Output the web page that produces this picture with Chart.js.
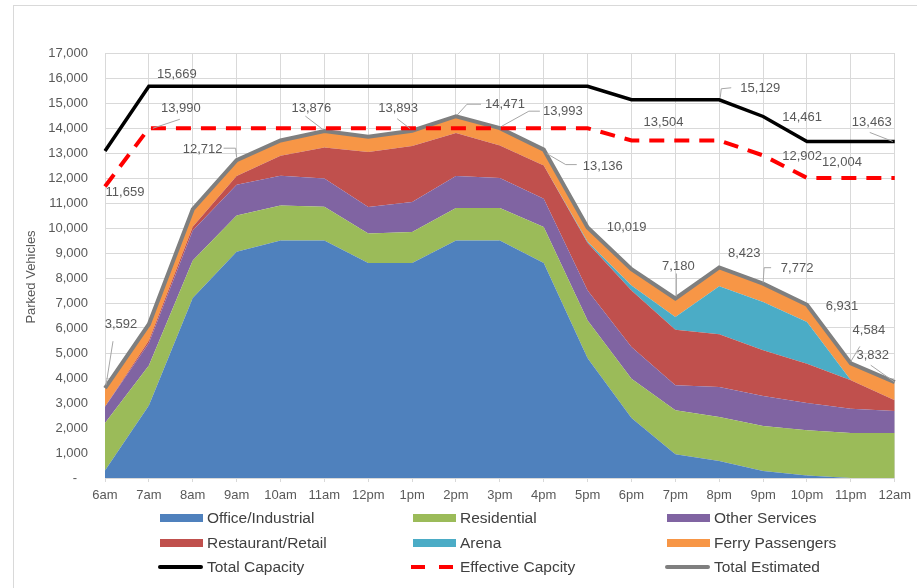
<!DOCTYPE html>
<html>
<head>
<meta charset="utf-8">
<script src="https://cdn.jsdelivr.net/npm/chart.js@4.4.0/dist/chart.umd.min.js"></script>
<style>
body { margin: 0; background: #fff; font-family: "Liberation Sans", Arial, sans-serif; }
#frame { position: absolute; left: 13px; top: 5px; width: 920px; height: 600px; border-left: 1px solid #d9d9d9; border-top: 1px solid #d9d9d9; }
#wrap { position: absolute; left: 0; top: 0; width: 917px; height: 510px; }
.item { position: absolute; font-size: 15.5px; color: #404040; line-height: 18px; white-space: nowrap; }
.sw { position: absolute; }
</style>
</head>
<body>
<div id="frame"></div>
<div id="wrap"><canvas id="myChart"></canvas></div>
<div id="legend"></div>
<script>
// hours on the x axis
var hours = ['6am', '7am', '8am', '9am', '10am', '11am', '12pm', '1pm', '2pm', '3pm', '4pm', '5pm', '6pm', '7pm', '8pm', '9pm', '10pm', '11pm', '12am'];

// parked vehicles by land use (stacked)
var officeIndustrial = [300, 2900, 7200, 9050, 9500, 9500, 8600, 8600, 9500, 9500, 8600, 4790, 2400, 950, 680, 280, 100, 0, 0];
var residential = [1900, 1600, 1500, 1450, 1400, 1350, 1180, 1240, 1300, 1300, 1440, 1510, 1570, 1760, 1760, 1800, 1810, 1800, 1800];
var otherServices = [650, 900, 1200, 1230, 1190, 1130, 1060, 1200, 1280, 1200, 1130, 1200, 1270, 1000, 1200, 1200, 1090, 970, 880];
var restaurantRetail = [0, 100, 150, 350, 800, 1240, 2200, 2240, 1720, 1300, 1330, 1900, 2260, 2220, 2110, 1830, 1570, 1140, 430];
var arena = [0, 0, 0, 0, 0, 0, 0, 0, 0, 0, 0, 50, 200, 510, 1920, 1930, 1670, 0, 0];
var ferryPassengers = [742, 650, 700, 632, 610, 656, 610, 613, 671, 693, 636, 569, 600, 740, 753, 732, 691, 674, 722];

// lines
var totalCapacity = [13080, 15669, 15669, 15669, 15669, 15669, 15669, 15669, 15669, 15669, 15669, 15669, 15129, 15129, 15129, 14461, 13463, 13463, 13463];
var effectiveCapacity = [11659, 13990, 13990, 13990, 13990, 13990, 13990, 13990, 13990, 13990, 13990, 13990, 13504, 13504, 13504, 12902, 12004, 12004, 12004];
var totalEstimated = [3592, 6150, 10750, 12712, 13500, 13876, 13650, 13893, 14471, 13993, 13136, 10019, 8350, 7180, 8423, 7772, 6931, 4584, 3832];

Chart.defaults.font.family = '"Liberation Sans", Arial, sans-serif';
Chart.defaults.color = '#595959';

function area(label, data, color, first) {
    return { label: label, data: data, backgroundColor: color, borderColor: color, borderWidth: 0,
        fill: first ? 'origin' : '-1', stack: 'uses', pointRadius: 0, tension: 0, order: 2, kind: 'area' };
}

var datasets = [
    area('Office/Industrial', officeIndustrial, '#4F81BD', true),
    area('Residential', residential, '#9BBB59'),
    area('Other Services', otherServices, '#8064A2'),
    area('Restaurant/Retail', restaurantRetail, '#C0504D'),
    area('Arena', arena, '#4BACC6'),
    area('Ferry Passengers', ferryPassengers, '#F79646'),
    { label: 'Total Capacity', data: totalCapacity, borderColor: '#000000', borderWidth: 3.5, fill: false,
      stack: 'cap', pointRadius: 0, tension: 0, order: 0, kind: 'line' },
    { label: 'Effective Capcity', data: effectiveCapacity, borderColor: '#FF0000', borderWidth: 4, borderDash: [15, 10],
      fill: false, stack: 'eff', pointRadius: 0, tension: 0, order: 0, kind: 'dash' },
    { label: 'Total Estimated', data: totalEstimated, borderColor: '#7F7F7F', borderWidth: 4, fill: false,
      stack: 'est', pointRadius: 0, tension: 0, order: 1, kind: 'line' }
];

// which points carry a value label, and where it sits relative to the point
var pointLabels = [
    { set: 'Total Estimated', i: 0, dx: 16, dy: -64, lead: [[1, -3], [8, -47]] },
    { set: 'Effective Capcity', i: 0, dx: 20, dy: 6 },
    { set: 'Total Capacity', i: 1, dx: 28, dy: -12 },
    { set: 'Effective Capcity', i: 1, dx: 32, dy: -20, lead: [[4, 0], [31, -9]] },
    { set: 'Total Estimated', i: 3, dx: -34, dy: -11, lead: [[-13, -12], [-1, -12], [0, -3]] },
    { set: 'Total Estimated', i: 5, dx: -13, dy: -23, lead: [[-19, -15], [-2, -2]] },
    { set: 'Total Estimated', i: 7, dx: -14, dy: -22, lead: [[-15, -12], [-2, -2]] },
    { set: 'Total Estimated', i: 8, dx: 49, dy: -12, lead: [[1, -1], [11, -12], [25, -12]] },
    { set: 'Total Estimated', i: 9, dx: 63, dy: -17, lead: [[2, -2], [29, -17], [40, -17]] },
    { set: 'Total Estimated', i: 10, dx: 59, dy: 17, lead: [[3, 4], [22, 15], [33, 15]] },
    { set: 'Total Estimated', i: 11, dx: 39, dy: 0 },
    { set: 'Effective Capcity', i: 12, dx: 32, dy: -18 },
    { set: 'Total Capacity', i: 14, dx: 41, dy: -11, lead: [[1, -2], [2, -11], [12, -12]] },
    { set: 'Total Capacity', i: 15, dx: 39, dy: 1 },
    { set: 'Effective Capcity', i: 15, dx: 39, dy: 1 },
    { set: 'Effective Capcity', i: 16, dx: 35, dy: -15 },
    { set: 'Total Capacity', i: 18, dx: -23, dy: -19, lead: [[-25, -9], [-2, 0]] },
    { set: 'Total Estimated', i: 13, dx: 3, dy: -32, lead: [[1, -25], [1, -2]] },
    { set: 'Total Estimated', i: 14, dx: 25, dy: -14 },
    { set: 'Total Estimated', i: 15, dx: 34, dy: -15, lead: [[0, -1], [1, -16], [8, -16]] },
    { set: 'Total Estimated', i: 16, dx: 35, dy: 2 },
    { set: 'Total Estimated', i: 17, dx: 18, dy: -33, lead: [[0, -2], [9, -17]] },
    { set: 'Total Estimated', i: 18, dx: -22, dy: -27, lead: [[-24, -17], [0, 0]] }
];

var labelPlugin = {
    id: 'pointLabels',
    afterDatasetsDraw: function (chart) {
        var ctx = chart.ctx;
        ctx.save();
        ctx.font = '13px "Liberation Sans", Arial, sans-serif';
        ctx.textAlign = 'center';
        ctx.textBaseline = 'middle';
        pointLabels.forEach(function (p) {
            var idx = chart.data.datasets.findIndex(function (d) { return d.label === p.set; });
            var pt = chart.getDatasetMeta(idx).data[p.i];
            if (p.lead) {
                ctx.strokeStyle = '#a6a6a6';
                ctx.lineWidth = 1;
                ctx.beginPath();
                p.lead.forEach(function (q, k) {
                    if (k === 0) ctx.moveTo(pt.x + q[0], pt.y + q[1]);
                    else ctx.lineTo(pt.x + q[0], pt.y + q[1]);
                });
                ctx.stroke();
            }
            ctx.fillStyle = '#595959';
            var v = chart.data.datasets[idx].data[p.i];
            ctx.fillText(v.toLocaleString('en-US'), pt.x + p.dx, pt.y + p.dy);
        });
        // axis title
        ctx.translate(31, 277);
        ctx.rotate(-Math.PI / 2);
        ctx.fillText('Parked Vehicles', 0, 0);
        ctx.restore();
    }
};

var ctx = document.getElementById('myChart').getContext('2d');
var myChart = new Chart(ctx, {
    type: 'line',
    data: { labels: hours, datasets: datasets },
    options: {
        responsive: true,
        maintainAspectRatio: false,
        animation: false,
        layout: { padding: { left: 0, right: 20, top: 53, bottom: 0 } },
        plugins: { legend: { display: false }, tooltip: { enabled: false } },
        scales: {
            x: {
                grid: { color: '#d9d9d9', tickLength: 4 },
                border: { color: '#d9d9d9' },
                ticks: { font: { size: 13 }, color: '#595959', padding: 6, maxRotation: 0, autoSkip: false },
                afterFit: function (s) { s.height = 32; }
            },
            y: {
                stacked: true,
                min: 0,
                max: 17000,
                grid: { color: '#d9d9d9', drawTicks: false },
                border: { display: false },
                ticks: {
                    stepSize: 1000, padding: 17, font: { size: 13 }, color: '#595959',
                    callback: function (v) { return v === 0 ? '-   ' : v.toLocaleString('en-US'); }
                },
                afterFit: function (s) { s.width = 105; }
            }
        }
    },
    plugins: [labelPlugin]
});

// legend, 3 columns
var legend = document.getElementById('legend');
var colX = [160, 413, 667];
datasets.forEach(function (d, n) {
    var col = n % 3, row = Math.floor(n / 3);
    var cy = 518 + row * 24.5;
    var x = colX[col];
    if (d.kind === 'area') {
        legend.innerHTML += '<div class="sw" style="left:' + x + 'px;top:' + (cy - 4) + 'px;width:43px;height:8px;background:' + d.backgroundColor + '"></div>';
    } else if (d.kind === 'dash') {
        legend.innerHTML += '<div class="sw" style="left:' + (x - 2) + 'px;top:' + (cy - 2) + 'px;width:14px;height:4px;background:' + d.borderColor + '"></div>';
        legend.innerHTML += '<div class="sw" style="left:' + (x + 26) + 'px;top:' + (cy - 2) + 'px;width:14px;height:4px;background:' + d.borderColor + '"></div>';
    } else {
        legend.innerHTML += '<div class="sw" style="left:' + (x - 2) + 'px;top:' + (cy - 2) + 'px;width:45px;height:4px;border-radius:2px;background:' + d.borderColor + '"></div>';
    }
    legend.innerHTML += '<div class="item" style="left:' + (x + 47) + 'px;top:' + (cy - 9) + 'px">' + d.label + '</div>';
});
</script>
</body>
</html>
